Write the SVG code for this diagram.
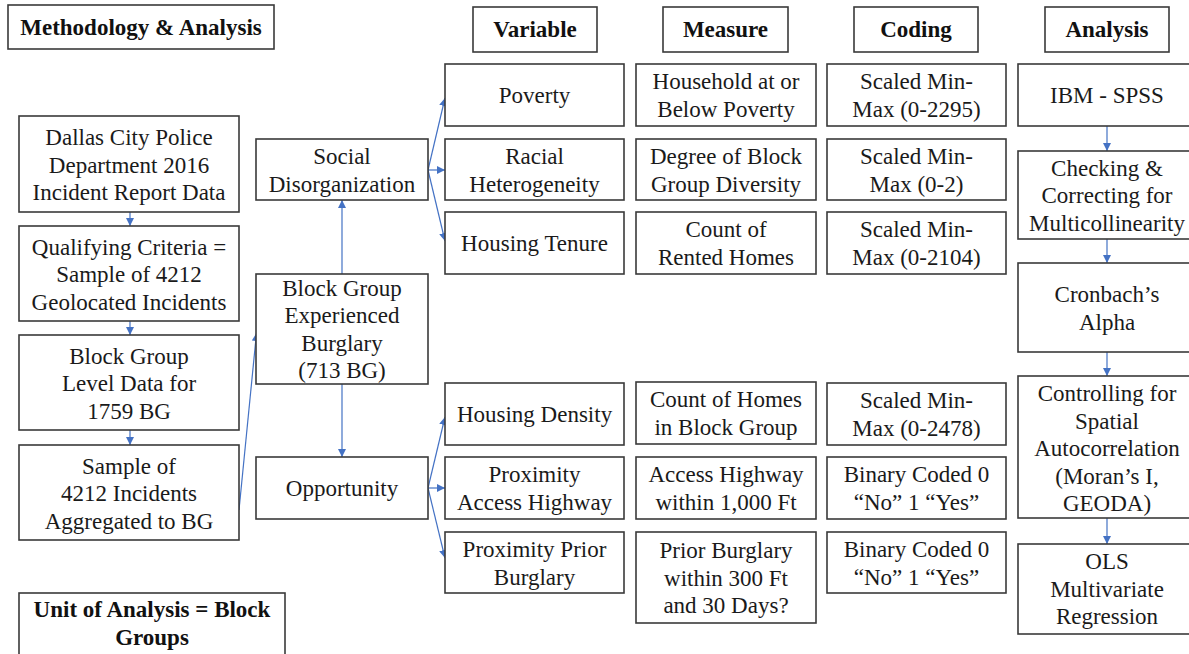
<svg xmlns="http://www.w3.org/2000/svg" width="1189" height="654" viewBox="0 0 1189 654">
<defs>
<style>
.b{fill:#fff;stroke:#3a3a3a;stroke-width:1.6}
.lbl{fill:#1a1a1a;text-anchor:middle}
.hdr{font-weight:bold;fill:#111;text-anchor:middle}
.c{stroke:#4472C4;stroke-width:1.2;fill:none;marker-end:url(#a)}
</style>
<marker id="a" viewBox="0 0 10 10" refX="10" refY="5" markerWidth="8" markerHeight="8" markerUnits="userSpaceOnUse" orient="auto">
<path d="M0,0 L10,5 L0,10 z" fill="#4472C4"/>
</marker>
</defs>
<rect width="1189" height="654" fill="#fff"/>

<g id="connectors">
<line class="c" x1="130" y1="212" x2="130" y2="226"/>
<line class="c" x1="130" y1="321" x2="130" y2="335"/>
<line class="c" x1="130" y1="430" x2="130" y2="445"/>
<line class="c" x1="239" y1="510" x2="256.5" y2="333"/>
<line class="c" x1="342" y1="274" x2="342" y2="200"/>
<line class="c" x1="342" y1="384" x2="342" y2="457"/>
<line class="c" x1="428" y1="170" x2="445" y2="98"/>
<line class="c" x1="428" y1="170" x2="445" y2="170"/>
<line class="c" x1="428" y1="170" x2="445" y2="241"/>
<line class="c" x1="428" y1="488" x2="445" y2="417"/>
<line class="c" x1="428" y1="488" x2="445" y2="488"/>
<line class="c" x1="428" y1="488" x2="445" y2="558"/>
<line class="c" x1="1107" y1="126" x2="1107" y2="151"/>
<line class="c" x1="1107" y1="239" x2="1107" y2="263"/>
<line class="c" x1="1107" y1="352" x2="1107" y2="376"/>
<line class="c" x1="1107" y1="518" x2="1107" y2="544"/>
</g>

<g font-family="Liberation Serif, Times New Roman, serif" font-size="23">
<g id="title"><rect class="b" x="8" y="5" width="266" height="44"/><text class="hdr" x="141" y="35">Methodology &amp; Analysis</text></g>
<g id="hdr-variable"><rect class="b" x="473" y="7" width="124" height="45"/><text class="hdr" x="535" y="37">Variable</text></g>
<g id="hdr-measure"><rect class="b" x="663" y="7" width="125" height="45"/><text class="hdr" x="725.5" y="37">Measure</text></g>
<g id="hdr-coding"><rect class="b" x="854" y="7" width="124" height="45"/><text class="hdr" x="916" y="37">Coding</text></g>
<g id="hdr-analysis"><rect class="b" x="1045" y="7" width="124" height="45"/><text class="hdr" x="1107" y="37">Analysis</text></g>
<g id="unit"><rect class="b" x="19" y="593" width="266" height="70"/><text class="hdr" x="152" y="617">Unit of Analysis = Block<tspan x="152" dy="28">Groups</tspan></text></g>

<g id="dallas"><rect class="b" x="19" y="116" width="220" height="96"/><text class="lbl" x="129" y="145">Dallas City Police<tspan x="129" dy="27.5">Department 2016</tspan><tspan x="129" dy="27.5">Incident Report Data</tspan></text></g>
<g id="qualifying"><rect class="b" x="19" y="226" width="220" height="95"/><text class="lbl" x="129" y="254.5">Qualifying Criteria =<tspan x="129" dy="27.5">Sample of 4212</tspan><tspan x="129" dy="27.5">Geolocated Incidents</tspan></text></g>
<g id="blockgroup-level"><rect class="b" x="19" y="335" width="220" height="95"/><text class="lbl" x="129" y="363.5">Block Group<tspan x="129" dy="27.5">Level Data for</tspan><tspan x="129" dy="27.5">1759 BG</tspan></text></g>
<g id="sample"><rect class="b" x="19" y="445" width="220" height="95"/><text class="lbl" x="129" y="473.5">Sample of<tspan x="129" dy="27.5">4212 Incidents</tspan><tspan x="129" dy="27.5">Aggregated to BG</tspan></text></g>

<g id="social"><rect class="b" x="256" y="139" width="172" height="61"/><text class="lbl" x="342" y="164">Social<tspan x="342" dy="27.5">Disorganization</tspan></text></g>
<g id="experienced"><rect class="b" x="256" y="274" width="172" height="110"/><text class="lbl" x="342" y="295.5">Block Group<tspan x="342" dy="27.5">Experienced</tspan><tspan x="342" dy="27.5">Burglary</tspan><tspan x="342" dy="27.5">(713 BG)</tspan></text></g>
<g id="opportunity"><rect class="b" x="256" y="457" width="172" height="62"/><text class="lbl" x="342" y="496">Opportunity</text></g>

<g id="v-poverty"><rect class="b" x="445" y="64" width="179" height="62"/><text class="lbl" x="534.5" y="103">Poverty</text></g>
<g id="v-racial"><rect class="b" x="445" y="139" width="179" height="61"/><text class="lbl" x="534.5" y="164">Racial<tspan x="534.5" dy="27.5">Heterogeneity</tspan></text></g>
<g id="v-tenure"><rect class="b" x="445" y="212" width="179" height="62"/><text class="lbl" x="534.5" y="251">Housing Tenure</text></g>
<g id="v-density"><rect class="b" x="445" y="383" width="179" height="62"/><text class="lbl" x="534.5" y="422">Housing Density</text></g>
<g id="v-highway"><rect class="b" x="445" y="457" width="179" height="62"/><text class="lbl" x="534.5" y="482">Proximity<tspan x="534.5" dy="27.5">Access Highway</tspan></text></g>
<g id="v-prior"><rect class="b" x="445" y="532" width="179" height="61"/><text class="lbl" x="534.5" y="557">Proximity Prior<tspan x="534.5" dy="27.5">Burglary</tspan></text></g>

<g id="m-poverty"><rect class="b" x="636" y="64" width="180" height="62"/><text class="lbl" x="726" y="89">Household at or<tspan x="726" dy="27.5">Below Poverty</tspan></text></g>
<g id="m-racial"><rect class="b" x="636" y="139" width="180" height="61"/><text class="lbl" x="726" y="164">Degree of Block<tspan x="726" dy="27.5">Group Diversity</tspan></text></g>
<g id="m-tenure"><rect class="b" x="636" y="212" width="180" height="62"/><text class="lbl" x="726" y="237">Count of<tspan x="726" dy="27.5">Rented Homes</tspan></text></g>
<g id="m-density"><rect class="b" x="636" y="382" width="180" height="62"/><text class="lbl" x="726" y="407">Count of Homes<tspan x="726" dy="27.5">in Block Group</tspan></text></g>
<g id="m-highway"><rect class="b" x="636" y="457" width="180" height="62"/><text class="lbl" x="726" y="482">Access Highway<tspan x="726" dy="27.5">within 1,000 Ft</tspan></text></g>
<g id="m-prior"><rect class="b" x="636" y="532" width="180" height="91"/><text class="lbl" x="726" y="558">Prior Burglary<tspan x="726" dy="27.5">within 300 Ft</tspan><tspan x="726" dy="27.5">and 30 Days?</tspan></text></g>

<g id="c-poverty"><rect class="b" x="827" y="64" width="179" height="62"/><text class="lbl" x="916.5" y="89">Scaled Min-<tspan x="916.5" dy="27.5">Max (0-2295)</tspan></text></g>
<g id="c-racial"><rect class="b" x="827" y="139" width="179" height="61"/><text class="lbl" x="916.5" y="164">Scaled Min-<tspan x="916.5" dy="27.5">Max (0-2)</tspan></text></g>
<g id="c-tenure"><rect class="b" x="827" y="212" width="179" height="62"/><text class="lbl" x="916.5" y="237">Scaled Min-<tspan x="916.5" dy="27.5">Max (0-2104)</tspan></text></g>
<g id="c-density"><rect class="b" x="827" y="383" width="179" height="62"/><text class="lbl" x="916.5" y="408">Scaled Min-<tspan x="916.5" dy="27.5">Max (0-2478)</tspan></text></g>
<g id="c-highway"><rect class="b" x="827" y="457" width="179" height="62"/><text class="lbl" x="916.5" y="482">Binary Coded 0<tspan x="916.5" dy="27.5">“No” 1 “Yes”</tspan></text></g>
<g id="c-prior"><rect class="b" x="827" y="532" width="179" height="61"/><text class="lbl" x="916.5" y="557">Binary Coded 0<tspan x="916.5" dy="27.5">“No” 1 “Yes”</tspan></text></g>

<g id="a-spss"><rect class="b" x="1018" y="64" width="178" height="62"/><text class="lbl" x="1107" y="103">IBM - SPSS</text></g>
<g id="a-check"><rect class="b" x="1018" y="151" width="178" height="88"/><text class="lbl" x="1107" y="175.5">Checking &amp;<tspan x="1107" dy="27.5">Correcting for</tspan><tspan x="1107" dy="27.5">Multicollinearity</tspan></text></g>
<g id="a-cronbach"><rect class="b" x="1018" y="263" width="178" height="89"/><text class="lbl" x="1107" y="302">Cronbach’s<tspan x="1107" dy="27.5">Alpha</tspan></text></g>
<g id="a-spatial"><rect class="b" x="1018" y="376" width="178" height="142"/><text class="lbl" x="1107" y="401">Controlling for<tspan x="1107" dy="27.5">Spatial</tspan><tspan x="1107" dy="27.5">Autocorrelation</tspan><tspan x="1107" dy="27.5">(Moran’s I,</tspan><tspan x="1107" dy="27.5">GEODA)</tspan></text></g>
<g id="a-ols"><rect class="b" x="1018" y="544" width="178" height="90"/><text class="lbl" x="1107" y="569">OLS<tspan x="1107" dy="27.5">Multivariate</tspan><tspan x="1107" dy="27.5">Regression</tspan></text></g>
</g>
</svg>
